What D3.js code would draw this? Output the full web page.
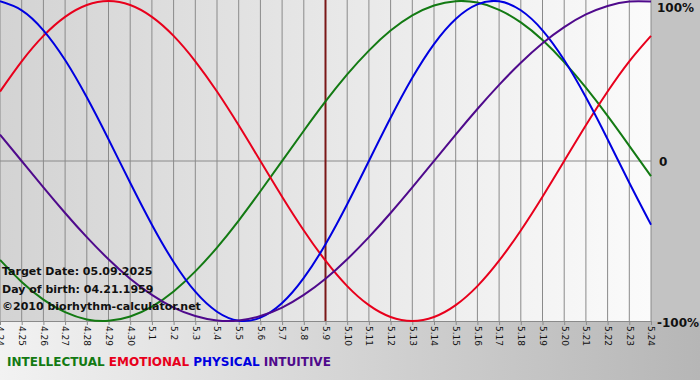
<!DOCTYPE html>
<html>
<head>
<meta charset="utf-8">
<script src="https://cdn.jsdelivr.net/npm/d3@7"></script>
<style>
	body { margin: 0; padding: 0; }
	svg { display: block; }
	text { font-family: "DejaVu Sans", Verdana, sans-serif; }
</style>
</head>
<body>
<div id="chart"></div>
<script>
// Days shown on the x axis
const days = ["4.24", "4.25", "4.26", "4.27", "4.28", "4.29", "4.30",
	"5.1", "5.2", "5.3", "5.4", "5.5", "5.6", "5.7", "5.8", "5.9", "5.10",
	"5.11", "5.12", "5.13", "5.14", "5.15", "5.16", "5.17", "5.18", "5.19",
	"5.20", "5.21", "5.22", "5.23", "5.24"];

// Cycle values per day (-1 .. 1)
const intellectual = [-0.618, -0.756, -0.866, -0.945, -0.990, -0.999, -0.972, -0.910, -0.815, -0.690, -0.541,
	-0.372, -0.189, 0, 0.189, 0.372, 0.541, 0.690, 0.815, 0.910, 0.972, 0.999, 0.990, 0.945, 0.866, 0.756,
	0.618, 0.458, 0.282, 0.095, -0.095];
const emotional = [0.434, 0.623, 0.782, 0.901, 0.975, 1, 0.975, 0.901, 0.782, 0.623, 0.434,
	0.223, 0, -0.223, -0.434, -0.623, -0.782, -0.901, -0.975, -1, -0.975, -0.901, -0.782, -0.623, -0.434, -0.223,
	0, 0.223, 0.434, 0.623, 0.782];
const physical = [0.998, 0.942, 0.817, 0.631, 0.398, 0.136, -0.136, -0.398, -0.631, -0.817, -0.942,
	-0.998, -0.979, -0.888, -0.731, -0.520, -0.270, 0, 0.270, 0.520, 0.731, 0.888, 0.979, 0.998, 0.942, 0.817,
	0.631, 0.398, 0.136, -0.136, -0.398];
const intuitive = [0.165, 0, -0.165, -0.325, -0.476, -0.614, -0.736, -0.837, -0.916, -0.969, -0.997,
	-0.997, -0.969, -0.916, -0.837, -0.736, -0.614, -0.476, -0.325, -0.165, 0, 0.165, 0.325, 0.476, 0.614, 0.736,
	0.837, 0.916, 0.969, 0.997, 0.997];

const yTicks = [1, 0, -1];
const yTickLabels = ["100%", "0", "-100%"];
const targetDay = "5.9";

const seriesNames = ["INTELLECTUAL", "EMOTIONAL", "PHYSICAL", "INTUITIVE"];
const seriesColors = ["#137a13", "#e8001c", "#0000e0", "#4f0a8c"];
const infoLines = ["Target Date: 05.09.2025", "Day of birth: 04.21.1959", "\u00a92010 biorhythm-calculator.net"];

function biorhythmChart(sel) {
	const width = 700, height = 380;
	const plotW = 651, plotTop = 1, plotBottom = 321;

	let chart = d3.select(sel).append("svg")
		.attr("width", width)
		.attr("height", height);

	const defs = chart.append("defs");
	// outer background
	let outer = defs.append("linearGradient").attr("id", "outerGrad")
		.attr("x1", "0%").attr("x2", "100%").attr("y1", "0%").attr("y2", "0%");
	outer.append("stop").attr("offset", "0%").attr("stop-color", "#f2f2f2");
	outer.append("stop").attr("offset", "100%").attr("stop-color", "#b6b6b6");
	// plot background
	let inner = defs.append("linearGradient").attr("id", "plotGrad")
		.attr("x1", "0%").attr("x2", "100%").attr("y1", "0%").attr("y2", "0%");
	inner.append("stop").attr("offset", "0%").attr("stop-color", "#d3d3d3");
	inner.append("stop").attr("offset", "100%").attr("stop-color", "#fbfbfb");

	chart.append("rect").attr("width", width).attr("height", height).attr("fill", "url(#outerGrad)");
	chart.append("rect").attr("x", plotW).attr("y", 0).attr("width", width - plotW).attr("height", plotBottom)
		.attr("fill", "#c3c3c3");
	chart.append("rect").attr("x", 0).attr("y", 0).attr("width", plotW).attr("height", plotBottom)
		.attr("fill", "url(#plotGrad)");

	// scales
	let x = d3.scalePoint()
		.domain(days)
		.range([0, plotW]);

	let y = d3.scaleLinear()
		.domain([-1, 1])
		.range([plotBottom, plotTop]);

	// vertical grid
	chart.append("g").selectAll("line")
		.data(days).enter().append("line")
		.attr("x1", d => x(d)).attr("x2", d => x(d))
		.attr("y1", 0).attr("y2", plotBottom)
		.attr("stroke", "#8a8a8a")
		.attr("stroke-width", 1);

	// zero line
	chart.append("line")
		.attr("x1", 0).attr("x2", plotW)
		.attr("y1", y(0)).attr("y2", y(0))
		.attr("stroke", "#8a8a8a");

	// x axis
	let xAxis = chart.append("g")
		.attr("transform", "translate(0," + plotBottom + ")")
		.call(d3.axisBottom(x).tickSize(4).tickSizeOuter(0));
	xAxis.select(".domain").attr("stroke", "#8a8a8a");
	xAxis.selectAll(".tick line").attr("stroke", "#8a8a8a");
	xAxis.selectAll(".tick text")
		.attr("transform", "rotate(90)")
		.attr("x", 5).attr("y", 0).attr("dy", "0.35em")
		.attr("text-anchor", "start")
		.attr("fill", "#111")
		.style("font-family", "'DejaVu Sans', sans-serif")
		.style("font-size", "9px");

	// target day marker
	chart.append("line")
		.attr("x1", x(targetDay)).attr("x2", x(targetDay))
		.attr("y1", 0).attr("y2", plotBottom)
		.attr("stroke", "#7a1818")
		.attr("stroke-width", 2);

	// curves
	let line = d3.line()
		.x((d, i) => x(days[i]))
		.y(d => y(d))
		.curve(d3.curveNatural);

	let allSeries = [intellectual, emotional, physical, intuitive];
	chart.append("g").selectAll("path")
		.data(allSeries).enter().append("path")
		.attr("d", d => line(d))
		.attr("fill", "none")
		.attr("stroke", (d, i) => seriesColors[i])
		.attr("stroke-width", 2);

	// right labels
	chart.append("g").selectAll("text")
		.data(yTicks).enter().append("text")
		.attr("x", (d, i) => i == 1 ? 659 : 657)
		.attr("y", (d, i) => [12, 166, 327][i])
		.attr("fill", "#111")
		.style("font-size", "12px")
		.style("font-weight", "bold")
		.text((d, i) => yTickLabels[i]);

	// info text
	chart.append("g").selectAll("text")
		.data(infoLines).enter().append("text")
		.attr("x", 2)
		.attr("y", (d, i) => 275 + i * 17.5)
		.attr("fill", "#111")
		.style("font-size", "11px")
		.style("font-weight", "bold")
		.text(d => d);

	// legend
	let legend = chart.append("text")
		.attr("x", 7)
		.attr("y", 366)
		.style("font-size", "12px")
		.style("font-weight", "bold");
	seriesNames.forEach(function (n, i) {
		legend.append("tspan")
			.attr("fill", seriesColors[i])
			.text((i > 0 ? " " : "") + n);
	});

	return { chart: chart, x_scale: x, y_scale: y };
}

biorhythmChart("#chart");
</script>
</body>
</html>
